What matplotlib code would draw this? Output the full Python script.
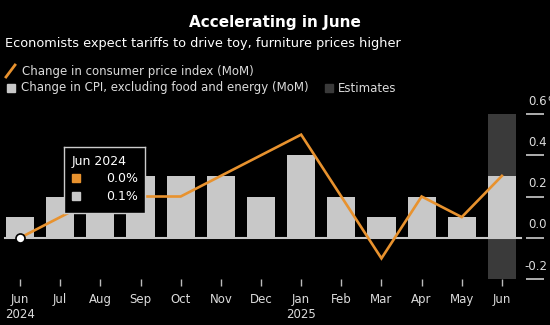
import matplotlib
matplotlib.use("Agg")
import matplotlib.pyplot as plt
from matplotlib.lines import Line2D
from matplotlib.patches import Rectangle
from matplotlib.transforms import blended_transform_factory

# monthly data, Jun 2024 - Jun 2025 (last month = estimate)
months = ["Jun", "Jul", "Aug", "Sep", "Oct", "Nov", "Dec",
          "Jan", "Feb", "Mar", "Apr", "May", "Jun"]
years = {0: "2024", 7: "2025"}
cpi = [0.0, 0.1, 0.2, 0.2, 0.2, 0.3, 0.4, 0.5, 0.2, -0.1, 0.2, 0.1, 0.3]
core = [0.1, 0.2, 0.3, 0.3, 0.3, 0.3, 0.2, 0.4, 0.2, 0.1, 0.2, 0.1, 0.3]
estimate_idx = [12]
yticks = [-0.2, 0.0, 0.2, 0.4, 0.6]

ORANGE = "#e8922e"
GRAY = "#c8c8c8"
DARK = "#3a3a3a"
TXT = "#dcdcdc"

plt.rcParams["font.family"] = "DejaVu Sans"

fig = plt.figure(figsize=(5.5, 3.25), dpi=100, facecolor="black")
ax = fig.add_axes([0, 46 / 325, 526 / 550, 165 / 325], facecolor="black")

x = list(range(len(months)))
for i in estimate_idx:
    ax.axvspan(i - 0.35, i + 0.35, color=DARK, zorder=1, lw=0)
ax.bar(x, core, width=0.7, color=GRAY, zorder=2)
ax.axhline(0, xmin=0.01, xmax=0.99, color=GRAY, lw=1.5, zorder=3)
ax.plot(x, cpi, color=ORANGE, lw=1.9, zorder=4, solid_joinstyle="miter")
ax.plot(x[0], cpi[0], "o", ms=6.5, mfc="white", mec="black", mew=1.2, zorder=5)

ax.set_xlim(-0.5, 12.6)
ax.set_ylim(-0.2, 0.6)
for s in ax.spines.values():
    s.set_visible(False)

ax.set_xticks(x)
ax.set_xticklabels([m + ("\n" + years[i] if i in years else "") for i, m in enumerate(months)],
                   fontsize=8.5, color=TXT, linespacing=1.25)
ax.tick_params(axis="x", length=5, width=1, color="#bbbbbb", pad=5)

ax.yaxis.tick_right()
ax.set_yticks(yticks)
ax.set_yticklabels([])
ax.tick_params(axis="y", length=13, width=1.2, color="#cccccc", pad=0)
tr = blended_transform_factory(fig.transFigure, ax.transData)
for v in yticks:
    ax.annotate(f"{v:.1f}", xy=(547 / 550, v), xycoords=tr, xytext=(0, 4.5),
                textcoords="offset points", ha="right", va="bottom",
                fontsize=8.5, color=TXT, annotation_clip=False)
ax.annotate("%", xy=(547 / 550, yticks[-1]), xycoords=tr, xytext=(0, 4.5),
            textcoords="offset points", ha="left", va="bottom",
            fontsize=8.5, color=TXT, annotation_clip=False)

# titles
fig.text(0.5, 1 - 22 / 325, "Accelerating in June", ha="center", va="center",
         fontsize=11, fontweight="bold", color="white")
fig.text(5 / 550, 1 - 44 / 325, "Economists expect tariffs to drive toy, furniture prices higher",
         ha="left", va="center", fontsize=9.3, color="white")

# legend
fig.add_artist(Line2D([6 / 550, 15 / 550], [1 - 77 / 325, 1 - 65 / 325],
                      color=ORANGE, lw=2, transform=fig.transFigure))
fig.text(22 / 550, 1 - 71 / 325, "Change in consumer price index (MoM)",
         ha="left", va="center", fontsize=8.5, color=TXT)
fig.add_artist(Rectangle((7 / 550, 1 - 92 / 325), 8 / 550, 8 / 325,
                         color=GRAY, transform=fig.transFigure))
fig.text(21 / 550, 1 - 88 / 325, "Change in CPI, excluding food and energy (MoM)",
         ha="left", va="center", fontsize=8.5, color=TXT)
fig.add_artist(Rectangle((325 / 550, 1 - 92 / 325), 8 / 550, 8 / 325,
                         color=DARK, transform=fig.transFigure))
fig.text(338 / 550, 1 - 88 / 325, "Estimates",
         ha="left", va="center", fontsize=8.5, color=TXT)

# tooltip for first month
tip = fig.add_axes([64 / 550, 1 - 213 / 325, 81 / 550, 66 / 325], facecolor="black")
tip.set_xticks([])
tip.set_yticks([])
for s in tip.spines.values():
    s.set_color("#cccccc")
    s.set_linewidth(1)
tip.set_xlim(0, 81)
tip.set_ylim(66, 0)
tip.text(8, 14, months[0] + " " + years[0], ha="left", va="center", fontsize=9, color="white")
tip.add_patch(Rectangle((8, 27), 8, 8, color=ORANGE))
tip.text(74, 31, f"{cpi[0]:.1f}%", ha="right", va="center", fontsize=9, color="white")
tip.add_patch(Rectangle((8, 45), 8, 8, color=GRAY))
tip.text(74, 49, f"{core[0]:.1f}%", ha="right", va="center", fontsize=9, color="white")

fig.savefig("out.png", dpi=100, facecolor="black")
